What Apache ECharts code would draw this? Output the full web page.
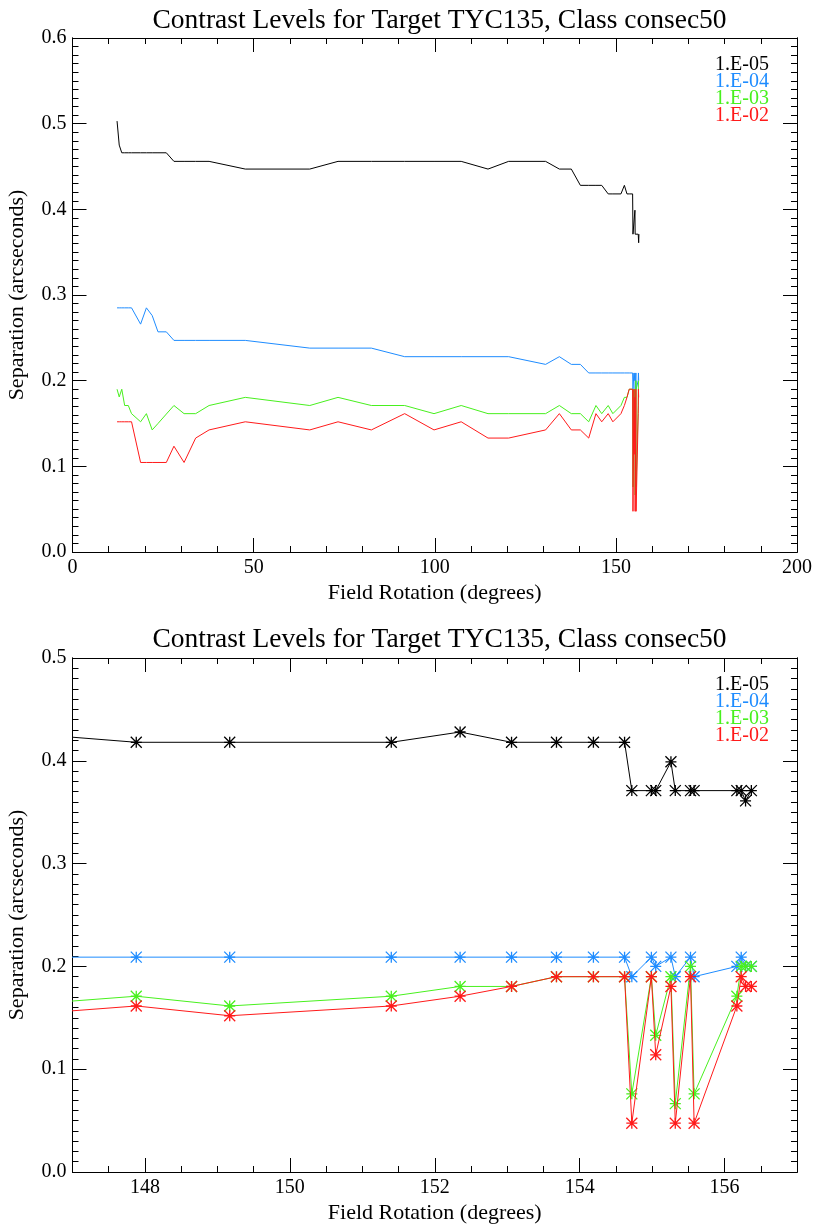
<!DOCTYPE html>
<html>
<head>
<meta charset="utf-8">
<script src="https://cdn.jsdelivr.net/npm/echarts@6/dist/echarts.min.js"></script>
<style>
  html, body { margin: 0; padding: 0; background: #fff; }
  #chart { width: 814px; height: 1226px; }
</style>
</head>
<body>
<div id="chart"></div>
<script>
// ---------------- DATA ----------------
const chartTitle = 'Contrast Levels for Target TYC135, Class consec50';
const xName = 'Field Rotation (degrees)';
const yName = 'Separation (arcseconds)';
const legendLabels = ['1.E-05', '1.E-04', '1.E-03', '1.E-02'];

// Field rotation (degrees) of each frame
const rotation = [12.3, 12.9, 13.6, 14.4, 15.4, 16.3, 18.8, 20.4, 22.0, 23.6, 25.9, 28.0, 30.8, 34.0, 37.7,
  47.7, 65.5, 73.3, 82.5, 91.7, 99.8, 107.3, 114.7, 120.4, 130.6, 134.4, 137.7, 140.2, 142.5, 144.5, 146.1,
  147.88, 149.17, 151.40, 152.35, 153.06, 153.68, 154.19, 154.62, 154.72, 154.99, 155.05, 155.26, 155.32,
  155.53, 155.58, 156.17, 156.23, 156.29, 156.37];

// Separation (arcsec) for contrast 1e-5
const sepE05 = [0.503, 0.475, 0.466, 0.466, 0.466, 0.466, 0.466, 0.466, 0.466, 0.466, 0.466, 0.456, 0.456, 0.456, 0.456,
  0.447, 0.447, 0.456, 0.456, 0.456, 0.456, 0.456, 0.447, 0.456, 0.456, 0.447, 0.447, 0.428, 0.428, 0.428, 0.428,
  0.418, 0.418, 0.418, 0.428, 0.418, 0.418, 0.418, 0.418, 0.371, 0.371, 0.371, 0.399, 0.371,
  0.371, 0.371, 0.371, 0.371, 0.361, 0.371];

// Separation (arcsec) for contrast 1e-4
const sepE04 = [0.285, 0.285, 0.285, 0.285, 0.285, 0.285, 0.266, 0.285, 0.276, 0.257, 0.257, 0.247, 0.247, 0.247, 0.247,
  0.247, 0.238, 0.238, 0.238, 0.228, 0.228, 0.228, 0.228, 0.228, 0.219, 0.228, 0.219, 0.219, 0.209, 0.209, 0.209,
  0.209, 0.209, 0.209, 0.209, 0.209, 0.209, 0.209, 0.209, 0.190, 0.209, 0.200, 0.209, 0.190,
  0.209, 0.190, 0.200, 0.209, 0.200, 0.200];

// Separation (arcsec) for contrast 1e-3
const sepE03 = [0.190, 0.181, 0.190, 0.171, 0.171, 0.1615, 0.152, 0.1615, 0.1425, 0.150, 0.161, 0.171, 0.1615, 0.1615, 0.171,
  0.1805, 0.171, 0.1805, 0.171, 0.171, 0.1615, 0.171, 0.1615, 0.1615, 0.1615, 0.171, 0.1615, 0.1615, 0.152, 0.171, 0.1615,
  0.171, 0.1615, 0.171, 0.1805, 0.1805, 0.190, 0.190, 0.190, 0.076, 0.190, 0.133, 0.190, 0.0665,
  0.200, 0.076, 0.171, 0.200, 0.200, 0.200];

// Separation (arcsec) for contrast 1e-2
const sepE02 = [0.152, 0.152, 0.152, 0.152, 0.152, 0.152, 0.1045, 0.1045, 0.1045, 0.1045, 0.1045, 0.1235, 0.1045, 0.133, 0.1425,
  0.152, 0.1425, 0.152, 0.1425, 0.1615, 0.1425, 0.152, 0.133, 0.133, 0.1425, 0.1615, 0.1425, 0.1425, 0.133, 0.1615, 0.152,
  0.1615, 0.152, 0.1615, 0.171, 0.1805, 0.190, 0.190, 0.190, 0.0475, 0.190, 0.114, 0.1805, 0.0475,
  0.190, 0.0475, 0.1615, 0.190, 0.1805, 0.1805];

// Tick labels of the zoomed (lower) panel
const zoomXTicks = [148, 150, 152, 154, 156];

// ---------------- STYLE ----------------
const FONT = '"Liberation Serif", "DejaVu Serif", serif';
const colors = ['#000000', '#1e8cff', '#48f01e', '#ff1a1a'];
const starPath = 'path://M5,0L5,10M0,0L10,10M10,0L0,10M0,5L10,5';

const pair = arr => rotation.map((r, i) => [r, arr[i]]);
const seriesArrays = [sepE05, sepE04, sepE03, sepE02];

const lineAxis = { show: true, onZero: false, lineStyle: { color: '#000', width: 1 } };
const tick = (len, extra) => Object.assign({ show: true, inside: true, length: len, lineStyle: { color: '#000', width: 1 } }, extra || {});
const lbl = (fmt, extra) => Object.assign({ show: true, color: '#000', fontFamily: FONT, fontSize: 20, formatter: fmt }, extra || {});
const noLbl = { show: false };
const noSplit = { show: false };
const nameStyle = { color: '#000', fontFamily: FONT, fontSize: 22 };
const fmtInt = v => String(v);
const fmt1 = v => v.toFixed(1);

function majorAxis(gi, pos, min, max, o) {
  const a = {
    gridIndex: gi, type: 'value', position: pos, min: min, max: max,
    axisLine: lineAxis, splitLine: noSplit,
    axisTick: tick(14, o.tickExtra),
    axisLabel: o.fmt ? lbl(o.fmt, Object.assign({ margin: 6 }, o.labelExtra || {})) : noLbl
  };
  if (o.interval != null) a.interval = o.interval;
  if (o.name) {
    a.name = o.name; a.nameLocation = 'middle'; a.nameGap = o.nameGap; a.nameTextStyle = nameStyle;
    if (o.nameRotate != null) a.nameRotate = o.nameRotate;
  }
  return a;
}
function minorAxis(gi, pos, min, max, interval) {
  return {
    gridIndex: gi, type: 'value', position: pos, min: min, max: max, interval: interval,
    axisLine: lineAxis, splitLine: noSplit, axisTick: tick(6), axisLabel: noLbl
  };
}

const xAxes = [
  // major axes: top panel (0,1), bottom panel (2,3)
  majorAxis(0, 'bottom', 0, 200, { interval: 50, fmt: fmtInt, name: xName, nameGap: 30 }),
  majorAxis(0, 'top', 0, 200, { interval: 50 }),
  majorAxis(1, 'bottom', 147, 157, { tickExtra: { customValues: zoomXTicks }, labelExtra: { customValues: zoomXTicks },
                                      fmt: fmtInt, name: xName, nameGap: 30 }),
  majorAxis(1, 'top', 147, 157, { tickExtra: { customValues: zoomXTicks } }),
  // minor-tick axes in overlay grids 2 and 3
  minorAxis(2, 'bottom', 0, 200, 10),
  minorAxis(2, 'top', 0, 200, 10),
  minorAxis(3, 'bottom', 147, 157, 0.5),
  minorAxis(3, 'top', 147, 157, 0.5)
];

const yAxes = [
  majorAxis(0, 'left', 0, 0.6, { interval: 0.1, fmt: fmt1, name: yName, nameGap: 44, nameRotate: 90 }),
  majorAxis(0, 'right', 0, 0.6, { interval: 0.1 }),
  majorAxis(1, 'left', 0, 0.5, { interval: 0.1, fmt: fmt1, name: yName, nameGap: 44, nameRotate: 90 }),
  majorAxis(1, 'right', 0, 0.5, { interval: 0.1 }),
  minorAxis(2, 'left', 0, 0.6, 0.01),
  minorAxis(2, 'right', 0, 0.6, 0.01),
  minorAxis(3, 'left', 0, 0.5, 0.01),
  minorAxis(3, 'right', 0, 0.5, 0.01)
];

const series = [];
seriesArrays.forEach((arr, i) => {
  series.push({
    name: legendLabels[i], type: 'line', xAxisIndex: 0, yAxisIndex: 0,
    data: pair(arr), symbol: 'none', clip: true,
    lineStyle: { color: colors[i], width: 1 }, itemStyle: { color: colors[i] },
    emphasis: { disabled: true }, z: 2 + i
  });
});
seriesArrays.forEach((arr, i) => {
  series.push({
    name: legendLabels[i], type: 'line', xAxisIndex: 2, yAxisIndex: 2,
    data: pair(arr), symbol: starPath, symbolSize: 11, showAllSymbol: true, clip: true,
    lineStyle: { color: colors[i], width: 1 },
    itemStyle: { color: colors[i], borderColor: colors[i], borderWidth: 1.3 },
    emphasis: { disabled: true }, z: 2 + i
  });
});

const legendText = (x, y0) => legendLabels.map((t, i) => ({
  type: 'text', x: x, y: y0 + i * 17, silent: true,
  style: { text: t, fill: colors[i], font: '20px ' + FONT, align: 'right', textAlign: 'right',
           verticalAlign: 'middle', textVerticalAlign: 'middle' }
}));

const titleStyle = { color: '#000', fontFamily: FONT, fontSize: 27.5, fontWeight: 'normal' };
const gridTop = { left: 72.5, right: 17, top: 38, height: 514, containLabel: false, outerBoundsMode: 'none' };
const gridBot = { left: 72.5, right: 17, top: 658, height: 514, containLabel: false, outerBoundsMode: 'none' };
const option = {
  animation: false,
  backgroundColor: '#ffffff',
  title: [
    { text: chartTitle, left: 434.5, textAlign: 'center', top: 2, textStyle: titleStyle },
    { text: chartTitle, left: 434.5, textAlign: 'center', top: 621, textStyle: titleStyle }
  ],
  grid: [gridTop, gridBot, Object.assign({}, gridTop), Object.assign({}, gridBot)],
  xAxis: xAxes,
  yAxis: yAxes,
  series: series,
  graphic: legendText(769, 65).concat(legendText(769, 685))
};

const chart = echarts.init(document.getElementById('chart'), null, { renderer: 'canvas' });
chart.setOption(option);
</script>
</body>
</html>
